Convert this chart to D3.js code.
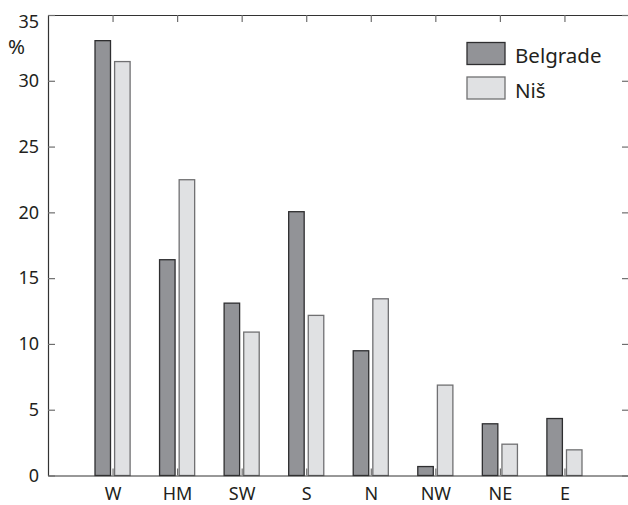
<!DOCTYPE html>
<html>
<head>
<meta charset="utf-8">
<script src="https://cdn.jsdelivr.net/npm/d3@7"></script>
<style>
  html, body { margin: 0; padding: 0; background: #fff; }
  svg { display: block; }
  text { font-family: "Noto Sans", "Open Sans", sans-serif; fill: #231f20; }
</style>
</head>
<body>
<svg id="chart" width="628" height="505"></svg>
<script>
const categories = ["W", "HM", "SW", "S", "N", "NW", "NE", "E"];
const seriesNames = ["Belgrade", "Niš"];
const belgrade = [33.05, 16.4, 13.1, 20.05, 9.48, 0.68, 3.93, 4.33];
const nis = [31.46, 22.48, 10.9, 12.17, 13.43, 6.87, 2.38, 1.95];
const yTicks = [0, 5, 10, 15, 20, 25, 30, 35];
const yLabel = "%";

const fills = ["#929397", "#e0e1e3"];
const strokes = ["#2e2e30", "#707072"];

const svg = d3.select("#chart");
const x = d3.scaleLinear().domain([0, 9]).range([48, 629]);
const y = d3.scaleLinear().domain([0, 35]).range([475.5, 15]);

const barW = 15.5;
const offsets = [-9.8, 9.8];
const seriesData = [belgrade, nis];

// bars
seriesData.forEach((vals, s) => {
  svg.append("g").selectAll("rect")
    .data(vals)
    .join("rect")
    .attr("x", (d, i) => x(i + 1) + offsets[s] - barW / 2)
    .attr("y", d => y(d))
    .attr("width", barW)
    .attr("height", d => y(0) - y(d))
    .attr("fill", fills[s])
    .attr("stroke", strokes[s])
    .attr("stroke-width", 1.3);
});

// axes
const catIdx = categories.map((c, i) => i + 1);
const xAxisB = d3.axisBottom(x).tickValues(catIdx).tickFormat((d) => categories[d - 1])
  .tickSizeInner(-7).tickSizeOuter(0).tickPadding(12);
const xAxisT = d3.axisTop(x).tickValues(catIdx).tickFormat("")
  .tickSizeInner(-7).tickSizeOuter(0);
const yAxisL = d3.axisLeft(y).tickValues(yTicks).tickFormat(d3.format("d"))
  .tickSizeInner(-7).tickSizeOuter(0).tickPadding(9);
const yAxisR = d3.axisRight(y).tickValues(yTicks).tickFormat("")
  .tickSizeInner(-7).tickSizeOuter(0);

function style(g) {
  g.select(".domain").attr("stroke", "#333").attr("stroke-width", 1.2);
  g.selectAll(".tick line").attr("stroke", "#6e6e6e").attr("stroke-width", 1.2);
  g.selectAll(".tick text").attr("font-size", 18).attr("fill", "#231f20")
    .attr("font-family", "'Noto Sans', sans-serif");
}

svg.append("g").attr("transform", `translate(0,${y(0)})`).call(xAxisB).call(style);
svg.append("g").attr("transform", `translate(0,${y(35)})`).call(xAxisT).call(style);
const gl = svg.append("g").attr("transform", `translate(${x(0)},0)`).call(yAxisL).call(style);
svg.append("g").attr("transform", `translate(${x(9)},0)`).call(yAxisR).call(style);

// top label sits slightly lower so it stays inside the frame
gl.selectAll(".tick").filter(d => d === 35).select("text").attr("dy", "0.55em").attr("y", 3);

svg.append("text").attr("x", 8).attr("y", 53.5).attr("font-size", 20.5).text(yLabel);

// legend
const leg = svg.append("g");
seriesNames.forEach((name, i) => {
  const ly = 42.5 + i * 34.5;
  leg.append("rect").attr("x", 467).attr("y", ly).attr("width", 38).attr("height", 22)
    .attr("fill", fills[i]).attr("stroke", strokes[i]).attr("stroke-width", 1.3);
  leg.append("text").attr("x", 515).attr("y", 62.5 + i * 35.5).attr("font-size", 20.5).text(name);
});
</script>
</body>
</html>
